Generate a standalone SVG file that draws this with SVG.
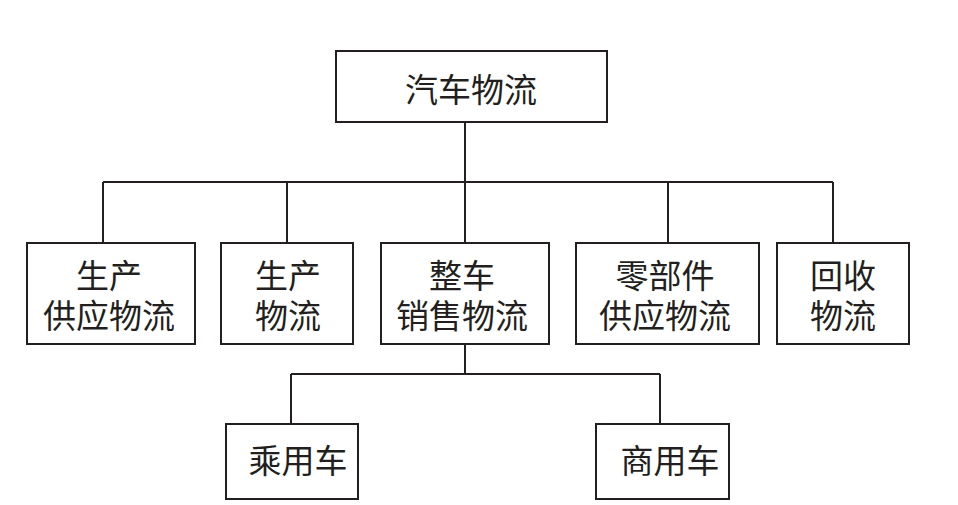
<svg xmlns="http://www.w3.org/2000/svg" width="958" height="505" viewBox="0 0 958 505">
<style>
rect.n{fill:#fff;stroke:#231f20;stroke-width:2}
.c path{fill:none;stroke:#231f20;stroke-width:2}
text{font-family:"Noto Sans CJK SC","Noto Sans CJK TC",sans-serif;font-size:33px;fill:#231f20;text-anchor:middle;dominant-baseline:central}
</style>
<rect width="958" height="505" fill="#fff"/>
<g class="c" id="connectors">
<path d="M465 122V182M103 182H833M103 182V243M287 182V243M465 182V243M668 182V243M833 182V243"/>
<path d="M465 344V374M291 374H660M291 374V424M660 374V424"/>
</g>
<g id="root"><rect class="n" x="336" y="51" width="271" height="71"/><text x="471" y="88">汽车物流</text></g>
<g id="n1"><rect class="n" x="27" y="243" width="168" height="101"/><text y="274"><tspan x="109">生产</tspan><tspan x="109" dy="40">供应物流</tspan></text></g>
<g id="n2"><rect class="n" x="221" y="243" width="132" height="101"/><text y="274"><tspan x="288">生产</tspan><tspan x="288" dy="40">物流</tspan></text></g>
<g id="n3"><rect class="n" x="381" y="243" width="168" height="101"/><text y="274"><tspan x="462">整车</tspan><tspan x="462" dy="40">销售物流</tspan></text></g>
<g id="n4"><rect class="n" x="576" y="243" width="183" height="101"/><text y="274"><tspan x="665">零部件</tspan><tspan x="665" dy="40">供应物流</tspan></text></g>
<g id="n5"><rect class="n" x="777" y="243" width="132" height="101"/><text y="274"><tspan x="843">回收</tspan><tspan x="843" dy="40">物流</tspan></text></g>
<g id="n6"><rect class="n" x="226" y="424" width="132" height="75"/><text x="298" y="459">乘用车</text></g>
<g id="n7"><rect class="n" x="596" y="424" width="133" height="75"/><text x="670" y="459">商用车</text></g>
</svg>
